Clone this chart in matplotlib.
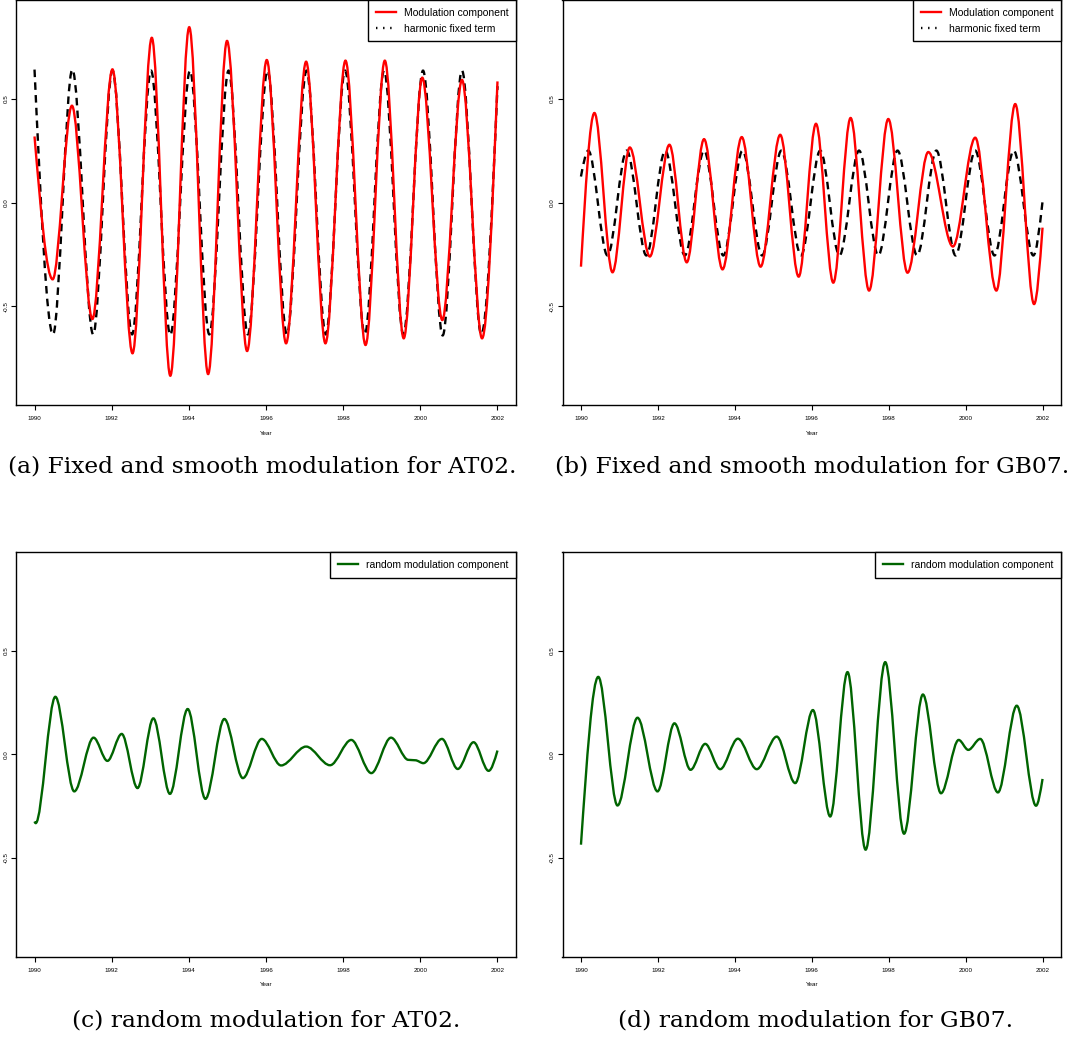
import numpy as np
import matplotlib.pyplot as plt
from matplotlib.path import Path
from matplotlib.patches import PathPatch
from matplotlib.lines import Line2D

# extrema (and end points): year, value
at_mod_t = [1990.00, 1990.47, 1990.97, 1991.50, 1992.02, 1992.54, 1993.04, 1993.52,
            1994.01, 1994.50, 1994.99, 1995.51, 1996.02, 1996.52, 1997.04, 1997.54,
            1998.06, 1998.58, 1999.08, 1999.57, 2000.05, 2000.57, 2001.08, 2001.60, 2002.00]
at_mod_v = [0.318, -0.370, 0.466, -0.561, 0.641, -0.726, 0.793, -0.834,
            0.844, -0.826, 0.778, -0.715, 0.686, -0.678, 0.678, -0.678,
            0.683, -0.686, 0.683, -0.654, 0.601, -0.566, 0.590, -0.654, 0.583]

at_fix_t = [1990.00, 1990.48, 1990.98, 1991.52, 1992.02, 1992.53, 1993.02, 1993.52,
            1994.03, 1994.53, 1995.03, 1995.53, 1996.04, 1996.54, 1997.05, 1997.55,
            1998.05, 1998.56, 1999.06, 1999.56, 2000.07, 2000.58, 2001.08, 2001.58, 2002.00]
at_fix_v = [0.640, -0.635, 0.640, -0.635, 0.635, -0.635, 0.635, -0.638,
            0.635, -0.635, 0.635, -0.635, 0.635, -0.635, 0.635, -0.635,
            0.635, -0.635, 0.635, -0.635, 0.635, -0.640, 0.635, -0.635, 0.560]

gb_mod_t = [1990.00, 1990.35, 1990.82, 1991.27, 1991.79, 1992.30, 1992.75, 1993.20,
            1993.68, 1994.18, 1994.67, 1995.18, 1995.66, 1996.11, 1996.56, 1997.01,
            1997.49, 1997.99, 1998.49, 1999.03, 1999.67, 2000.25, 2000.80, 2001.29,
            2001.78, 2002.00]
gb_mod_v = [-0.309, 0.431, -0.336, 0.265, -0.260, 0.278, -0.288, 0.305,
            -0.322, 0.315, -0.309, 0.326, -0.357, 0.379, -0.386, 0.407,
            -0.424, 0.402, -0.338, 0.243, -0.212, 0.312, -0.424, 0.474,
            -0.489, -0.121]

gb_fix_t = [1990.00, 1990.19, 1990.69, 1991.19, 1991.70, 1992.19, 1992.70, 1993.20,
            1993.70, 1994.20, 1994.71, 1995.21, 1995.72, 1996.22, 1996.72, 1997.23,
            1997.73, 1998.23, 1998.74, 1999.24, 1999.74, 2000.25, 2000.75, 2001.25,
            2001.76, 2002.00]
gb_fix_v = [0.125, 0.250, -0.255, 0.250, -0.255, 0.250, -0.255, 0.250,
            -0.255, 0.250, -0.255, 0.250, -0.255, 0.250, -0.255, 0.250,
            -0.255, 0.250, -0.255, 0.250, -0.255, 0.250, -0.255, 0.250,
            -0.255, 0.005]

at_rnd_t = [1990.00, 1990.03, 1990.54, 1991.03, 1991.53, 1991.89, 1992.26, 1992.67,
            1993.08, 1993.51, 1993.97, 1994.43, 1994.92, 1995.40, 1995.89, 1996.39,
            1997.04, 1997.66, 1998.21, 1998.73, 1999.24, 1999.69, 1999.87, 2000.08,
            2000.56, 2000.97, 2001.38, 2001.77, 2002.00]
at_rnd_v = [-0.324, -0.332, 0.277, -0.179, 0.080, -0.032, 0.098, -0.163,
            0.173, -0.191, 0.218, -0.215, 0.170, -0.115, 0.074, -0.054,
            0.037, -0.053, 0.069, -0.091, 0.080, -0.027, -0.029, -0.043,
            0.074, -0.071, 0.058, -0.080, 0.018]

gb_rnd_t = [1990.00, 1990.45, 1990.95, 1991.47, 1991.99, 1992.43, 1992.85, 1993.23,
            1993.62, 1994.08, 1994.57, 1995.09, 1995.57, 1996.03, 1996.48, 1996.93,
            1997.40, 1997.91, 1998.40, 1998.89, 1999.36, 1999.82, 2000.07, 2000.38,
            2000.84, 2001.33, 2001.83, 2002.00]
gb_rnd_v = [-0.436, 0.373, -0.247, 0.176, -0.179, 0.149, -0.075, 0.050,
            -0.072, 0.075, -0.072, 0.085, -0.139, 0.213, -0.300, 0.396,
            -0.460, 0.444, -0.383, 0.288, -0.188, 0.069, 0.021, 0.074,
            -0.184, 0.234, -0.248, -0.119]

captions = ['(a) Fixed and smooth modulation for AT02.',
            '(b) Fixed and smooth modulation for GB07.',
            '(c) random modulation for AT02.',
            '(d) random modulation for GB07.']
xticks = [1990, 1992, 1994, 1996, 1998, 2000, 2002]
yticks = [-0.5, 0.0, 0.5]

SANS = ['Liberation Sans Narrow', 'Liberation Sans', 'DejaVu Sans']
RED, GREEN = '#ff0000', '#006400'


def smooth_patch(t, v, **kw):
    # cubic Bezier through the read extrema, flat tangents at the turning points
    t = np.asarray(t, float)
    v = np.asarray(v, float)
    n = len(t)
    m = np.zeros(n)
    m[0] = 1.5 * (v[1] - v[0]) / (t[1] - t[0])
    m[-1] = 1.5 * (v[-1] - v[-2]) / (t[-1] - t[-2])
    verts = [(t[0], v[0])]
    codes = [Path.MOVETO]
    for i in range(n - 1):
        h = (t[i+1] - t[i]) / 3.
        verts += [(t[i] + h, v[i] + m[i]*h), (t[i+1] - h, v[i+1] - m[i+1]*h),
                  (t[i+1], v[i+1])]
        codes += [Path.CURVE4] * 3
    return PathPatch(Path(verts, codes), fill=False, **kw)


fig = plt.figure(figsize=(10.72, 10.44), dpi=100)
W, H = 1072., 1044.
boxes = [(16, 0, 516, 405), (562.5, 0, 1061, 405),
         (16, 552, 516, 956.5), (562.5, 552, 1061, 956.5)]
axs = []
for (x0, y0, x1, y1) in boxes:
    ax = fig.add_axes([x0/W, 1 - y1/H, (x1 - x0)/W, (y1 - y0)/H])
    ax.set_xlim(1989.52, 2002.48)
    ax.set_ylim(-0.975, 0.975)
    ax.set_xticks(xticks)
    ax.set_yticks(yticks)
    ax.set_yticklabels(['-0.5', '0.0', '0.5'], rotation=90, va='center')
    ax.tick_params(length=3.5, width=0.8, labelsize=4.5, pad=4.5)
    ax.tick_params(axis='y', pad=2)
    for lab in ax.get_xticklabels() + ax.get_yticklabels():
        lab.set_family(SANS)
    for sp in ax.spines.values():
        sp.set_linewidth(1.0)
    ax.set_xlabel('Year', fontsize=4.5, family=SANS, labelpad=7)
    axs.append(ax)

lw = 1.7
axs[0].add_patch(smooth_patch(at_fix_t, at_fix_v, edgecolor='black', lw=lw,
                              linestyle=(0, (3.2, 2.2))))
axs[0].add_patch(smooth_patch(at_mod_t, at_mod_v, edgecolor=RED, lw=lw))
axs[1].add_patch(smooth_patch(gb_fix_t, gb_fix_v, edgecolor='black', lw=lw,
                              linestyle=(0, (3.2, 2.2))))
axs[1].add_patch(smooth_patch(gb_mod_t, gb_mod_v, edgecolor=RED, lw=lw))
axs[2].add_patch(smooth_patch(at_rnd_t, at_rnd_v, edgecolor=GREEN, lw=lw))
axs[3].add_patch(smooth_patch(gb_rnd_t, gb_rnd_v, edgecolor=GREEN, lw=lw))

fixed_handles = [Line2D([], [], color=RED, lw=lw),
                 Line2D([], [], color='black', lw=lw, linestyle=(0, (0.6, 2.4)))]
fixed_labels = ['Modulation component', 'harmonic fixed term']
rnd_handles = [Line2D([], [], color=GREEN, lw=lw)]
rnd_labels = ['random modulation component']

legs = [(axs[0], fixed_handles, fixed_labels), (axs[1], fixed_handles, fixed_labels),
        (axs[2], rnd_handles, rnd_labels), (axs[3], rnd_handles, rnd_labels)]
for ax, hs, ls in legs:
    leg = ax.legend(hs, ls, loc='upper right', borderaxespad=0, fancybox=False,
                    framealpha=1, edgecolor='black', handlelength=1.9,
                    handletextpad=0.75, borderpad=0.75, labelspacing=0.55,
                    prop={'family': SANS, 'size': 7.5})
    leg.get_frame().set_linewidth(1.0)

cap_pos = [(262, 467), (812, 467), (266, 1020), (816, 1020)]
for (cx, cy), txt in zip(cap_pos, captions):
    fig.text(cx/W, 1 - cy/H, txt, ha='center', va='center',
             family='DejaVu Serif', fontsize=16.8)

fig.savefig('out.png', dpi=100)
